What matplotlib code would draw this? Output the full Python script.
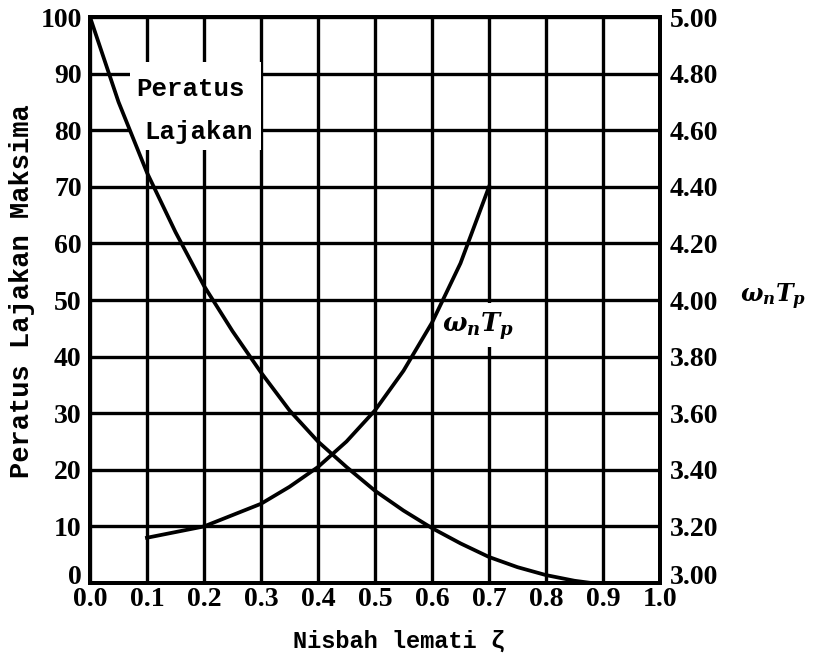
import numpy as np
import matplotlib.pyplot as plt
import matplotlib.transforms as mtransforms
from matplotlib.patches import Rectangle

plt.rcParams['mathtext.fontset'] = 'custom'
plt.rcParams['mathtext.it'] = 'DejaVu Serif:italic:bold'
plt.rcParams['mathtext.rm'] = 'DejaVu Serif:bold'

# ====== data ======
zeta_os = [0.0, 0.05, 0.1, 0.15, 0.2, 0.25, 0.3, 0.35, 0.4, 0.45,
           0.5, 0.55, 0.6, 0.65, 0.7, 0.75, 0.8, 0.85, 0.88]
overshoot = [100, 85, 72.5, 62, 52.5, 44.5, 37.2, 30.5, 25, 20.5,
             16.3, 12.8, 9.7, 7.0, 4.6, 2.8, 1.4, 0.4, 0.0]

zeta_tp = [0.1, 0.15, 0.2, 0.25, 0.3, 0.35, 0.4, 0.45, 0.5, 0.55, 0.6, 0.65, 0.7]
wn_tp = [3.16, 3.18, 3.20, 3.24, 3.28, 3.34, 3.41, 3.50, 3.61, 3.75, 3.92, 4.13, 4.40]

x_ticks = [0.0, 0.1, 0.2, 0.3, 0.4, 0.5, 0.6, 0.7, 0.8, 0.9, 1.0]
left_ticks = [0, 10, 20, 30, 40, 50, 60, 70, 80, 90, 100]
right_ticks = [3.0, 3.2, 3.4, 3.6, 3.8, 4.0, 4.2, 4.4, 4.6, 4.8, 5.0]

tick_font = dict(family='Liberation Serif', weight='bold', size=20)

fig = plt.figure(figsize=(8.13, 6.62), dpi=100)
ax = fig.add_axes([0.1107, 0.1193, 0.7011, 0.855])
ax.set_xlim(0, 1)
ax.set_ylim(0, 100)

# grid drawn by hand so the label boxes can cover it
for x in x_ticks:
    ax.axvline(x, color='black', lw=2.4, zorder=1)
for y in left_ticks:
    ax.axhline(y, color='black', lw=2.4, zorder=1)

# white areas behind the labels
ax.add_patch(Rectangle((0.07, 76.5), 0.23, 15.5, facecolor='white', edgecolor='none', zorder=2))
ax.add_patch(Rectangle((0.61, 41.7), 0.135, 7.8, facecolor='white', edgecolor='none', zorder=2))

ax.plot(zeta_os, overshoot, color='black', lw=2.7, zorder=3)

ax.text(0.177, 87.3, 'Peratus', ha='center', va='center', zorder=4,
        family='Liberation Mono', weight='bold', size=18.5)
ax.text(0.19, 79.7, 'Lajakan', ha='center', va='center', zorder=4,
        family='Liberation Mono', weight='bold', size=18.5)
ax.text(0.68, 45.4, r'$\omega_n T_p$', ha='center', va='center', zorder=4, fontsize=18.5)

ax.set_xticks(x_ticks)
ax.set_xticklabels(['%.1f' % x for x in x_ticks], **tick_font)
ax.set_yticks(left_ticks)
ax.set_yticklabels([str(v) for v in left_ticks], **tick_font)
ax.tick_params(axis='y', length=0, pad=6)
ax.tick_params(axis='x', length=0, pad=3)
for s in ax.spines.values():
    s.set_linewidth(2.8)

ax.set_xlabel('Nisbah lemati ζ', family='Liberation Mono', weight='bold', size=17)
ax.xaxis.set_label_coords(0.542, -0.083)
ax.set_ylabel('Peratus Lajakan Maksima', family='Liberation Mono', weight='bold', size=19.5)
ax.yaxis.set_label_coords(-0.097, 0.515)

ax2 = ax.twinx()
ax2.set_ylim(3.0, 5.0)
ax2.plot(zeta_tp, wn_tp, color='black', lw=2.7, zorder=3)
ax2.set_yticks(right_ticks)
ax2.set_yticklabels(['%.2f' % v for v in right_ticks], **tick_font)
ax2.tick_params(length=0, pad=7)
for s in ax2.spines.values():
    s.set_linewidth(2.8)

# lift the bottom labels on both y axes a little, as in the original
lift = mtransforms.ScaledTranslation(0, 6 / 72, fig.dpi_scale_trans)
for lab in (ax.get_yticklabels()[0], ax2.get_yticklabels()[0]):
    lab.set_transform(lab.get_transform() + lift)

fig.text(0.910, 0.551, r'$\omega_n T_p$', ha='left', va='center', fontsize=17)

fig.savefig('out.png', dpi=100)
